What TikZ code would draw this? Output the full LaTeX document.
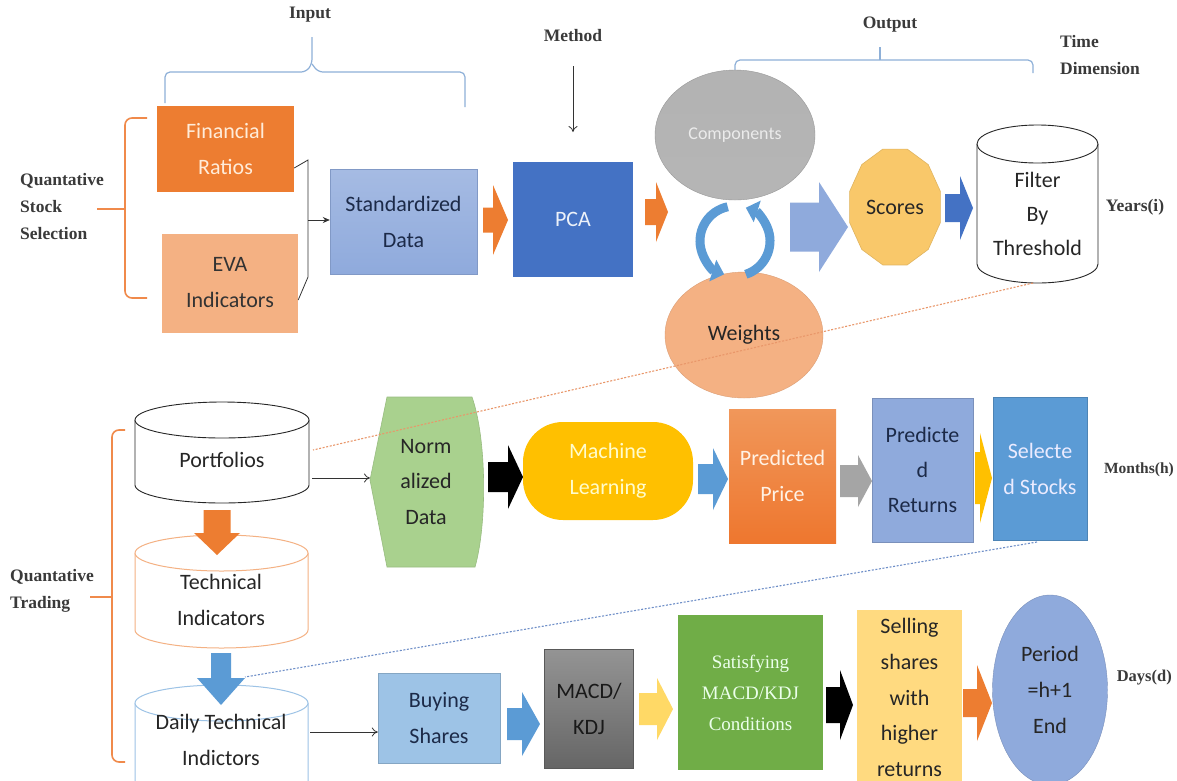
\documentclass[tikz,border=0pt]{standalone}
\usepackage{fontspec}
\setmainfont{Liberation Serif}
\newfontfamily\calfont{Carlito}
\usetikzlibrary{shapes.geometric,arrows.meta,calc}
\definecolor{cOrange}{HTML}{ED7D31}
\definecolor{cSalmon}{HTML}{F4B183}
\definecolor{cLav}{HTML}{8FAADC}
\definecolor{cBlue}{HTML}{4472C4}
\definecolor{cSky}{HTML}{5B9BD5}
\definecolor{cSkyDark}{HTML}{41719C}
\definecolor{cLightSky}{HTML}{9DC3E6}
\definecolor{cGray}{HTML}{A5A5A5}
\definecolor{cGold}{HTML}{FFC000}
\definecolor{cPaleGold}{HTML}{FFD966}
\definecolor{cScore}{HTML}{F9C86A}
\definecolor{cSell}{HTML}{FFDA80}
\definecolor{cGreen}{HTML}{70AD47}
\definecolor{cLightGreen}{HTML}{A9D18E}
\definecolor{cDark}{HTML}{3A3A3A}
\definecolor{cNavy}{HTML}{1C2A48}
\definecolor{cBrace}{HTML}{8EB0D8}
\definecolor{cOBrace}{HTML}{F08A4B}
\definecolor{cODot}{HTML}{E9976A}
\definecolor{cBDot}{HTML}{6F8FC8}
\newcommand{\rarr}[7]{%
  \fill[#7] (#1,{#3-#4}) -- (#6,{#3-#4}) -- (#6,{#3-#5}) -- (#2,#3) -- (#6,{#3+#5}) -- (#6,{#3+#4}) -- (#1,{#3+#4}) -- cycle;}
\newcommand{\darr}[7]{%
  \fill[#7] ({#3-#4},#1) -- ({#3-#4},#6) -- ({#3-#5},#6) -- (#3,#2) -- ({#3+#5},#6) -- ({#3+#4},#6) -- ({#3+#4},#1) -- cycle;}
\newcommand{\cyl}[6]{%
  \pgfmathsetmacro\cylrx{(#2-#1)/2}%
  \filldraw[#6] (#1,{#3+#5}) -- (#1,{#4-#5}) arc[start angle=180,end angle=360,x radius=\cylrx pt,y radius=#5pt] -- (#2,{#3+#5}) arc[start angle=0,end angle=180,x radius=\cylrx pt,y radius=#5pt] -- cycle;
  \draw[#6] (#1,{#3+#5}) arc[start angle=180,end angle=360,x radius=\cylrx pt,y radius=#5pt];}
\begin{document}
\begin{tikzpicture}[x=1pt,y=-1pt,
  box/.style={inner sep=0pt, align=center, font=\calfont\fontsize{22}{36}\selectfont},
  lbl/.style={inner sep=0pt, align=left, text=cDark, font=\bfseries\fontsize{17.5}{27}\selectfont},
  brace/.style={draw=cBrace, line width=1.2pt, rounded corners=5pt},
  obrace/.style={draw=cOBrace, line width=1.6pt, rounded corners=7pt},
  thinarrow/.style={draw=black!80, line width=0.8pt, -{To[length=6pt,width=9pt]}},
  odot/.style={draw=cODot, line width=1.1pt, dash pattern=on 2pt off 1.6pt},
  bdot/.style={draw=cBDot, line width=1.1pt, dash pattern=on 2pt off 1.6pt},
  cylw/.style={draw=black!85, fill=white, line width=0.9pt},
  cylo/.style={draw=cSalmon, fill=white, line width=1pt},
  cylb/.style={draw=cLightSky, fill=white, line width=1pt},
  circarrow/.style={draw=cSky, line width=9pt, -{Triangle[length=12pt,width=22pt]}}
]
\useasboundingbox (0,0) rectangle (1177,780);
\fill[white] (0,0) rectangle (1177,780);

% ---------- top labels and braces ----------
\node[lbl] (input) at (310,15) {Input};
\draw[brace] (165,103) -- (165,72) -- (306,72) -- (312,64) -- (312,37);
\draw[brace] (312,64) -- (318,72) -- (465,72) -- (465,107);
\node[lbl] (method) at (573,36) {Method};
\coordinate (mtip) at (573,132);
\draw[thinarrow] ($(method.south)+(0,24)$) -- (mtip);
\node[lbl] (output) at (890,25) {Output};
\draw[brace] (735,70) -- (735,60) -- (1033,60) -- (1033,73);
\draw[brace] (880,60) -- (880,47);
\node[lbl, anchor=west] (timedim) at (1060,55) {Time\\Dimension};

\node[lbl, anchor=west] (qss) at (20,207) {Quantative\\Stock\\Selection};
\draw[obrace] (147,118) -- (125,118) -- (125,298) -- (147,298);
\draw[obrace, rounded corners=0pt] (97,209) -- (125,209);

% ---------- top row ----------
\node[box, fill=cOrange, text=orange!15, minimum width=137, minimum height=86] (fr) at (225.5,149) {Financial\\Ratios};
\node[box, fill=cSalmon, text=black!80, minimum width=136, minimum height=99] (eva) at (230,283) {EVA\\Indicators};
\node[box, top color=cLav!80, bottom color=cLav, draw=cLav!90!black, text=cNavy, minimum width=147, minimum height=105] (std) at (403.5,221.5) {Standardized\\Data};
\draw[draw=black!80, line width=0.8pt] ($(fr.east)+(0,19)$) -- (308,160) -- (308,277) -- ($(eva.east)+(0,17)$);
\coordinate (join) at (308,220);
\draw[draw=black!80, line width=0.8pt, -{Stealth[length=7pt,width=6pt]}] (join) -- (std.west |- join);

\rarr{483}{508}{220}{12.5}{35}{493}{cOrange}
\node[box, fill=cBlue, text=white!90!cBlue, minimum width=120, minimum height=115] (pca) at (573,219.5) {PCA};
\rarr{645}{668}{212}{13}{30}{656}{cOrange}

\node[ellipse, draw=gray!80, top color=cGray!85, bottom color=cGray!110!black, minimum width=160, minimum height=130, inner sep=0pt, text=white!92!black, font=\calfont\fontsize{18}{22}\selectfont] (comp) at (735,135) {Components};
\node[ellipse, draw=cSalmon!90!black, fill=cSalmon, minimum width=158, minimum height=126, inner sep=0pt, text=black!85, font=\calfont\fontsize{22}{26}\selectfont] (wts) at (744,335) {Weights};
% circular arrows
\coordinate (cyc) at (735,241);
\draw[circarrow] (cyc) ++(102:35pt) arc[start angle=102, end angle=252, radius=35pt];
\draw[circarrow] (cyc) ++(288:35pt) arc[start angle=288, end angle=432, radius=35pt];

\rarr{790}{848}{227}{24.5}{45}{819}{cLav}
% Scores 12-gon
\filldraw[draw=cScore!90!black, fill=cScore, line width=0.6pt] ({895+47*cos(15)},{207+60*sin(15)})
  \foreach \a in {45,75,...,345} { -- ({895+47*cos(\a)},{207+60*sin(\a)}) } -- cycle;
\node[box, text=black!85] (scores) at (895,207) {Scores};
\rarr{945}{973}{208}{14}{32}{960}{cBlue}

\cyl{977}{1098}{125}{283}{19}{cylw}
\node[box, font=\calfont\fontsize{22}{34}\selectfont, text=black!85] (filter) at (1037.5,214) {Filter\\By\\Threshold};
\node[lbl] (years) at (1135,207) {Years(i)};
\coordinate (filterbot) at (1033,283);

% ---------- middle row ----------
\node[lbl, anchor=west] (qt) at (10,591) {Quantative\\Trading};
\draw[obrace] (125,430) -- (112,430) -- (112,762) -- (125,762);
\draw[obrace, rounded corners=0pt] (90,597) -- (112,597);

\cyl{135}{309}{402}{503}{18}{cylw}
\node[box, text=black!85] (port) at (222,460) {Portfolios};
\coordinate (portR) at (313,450);
\coordinate (portA) at (312,478);

\cyl{135}{308}{535}{648}{18}{cylo}
\node[box, text=black!85] (tech) at (221,600) {Technical\\Indicators};
\darr{510}{555}{217}{13.5}{23}{533}{cOrange}

\cyl{135}{308}{685}{805}{18}{cylb}
\node[box, text=black!85] (daily) at (221,740) {Daily Technical\\Indictors};
\darr{653}{705}{221}{10}{24}{678}{cSky}
\coordinate (dailyR) at (245,677);
\coordinate (dailyA) at (310,732);

% Normalized data
\filldraw[draw=cLightGreen!90!black, fill=cLightGreen, line width=0.6pt] (387,397) -- (472,397) .. controls (487,440) and (487,525) .. (475,567) -- (387,567) -- (370,480) -- cycle;
\node[box, text=black!85, font=\calfont\fontsize{22}{35.5}\selectfont] (norm) at (426,482) {Norm\\alized\\Data};
\draw[odot] (filterbot) -- (portR);
\draw[thinarrow] (portA) -- (370,478) coordinate (normL);

\rarr{488}{523}{477}{15}{32}{508}{black}
\node[box, fill=cGold, rounded corners=40pt, text=yellow!20!white, minimum width=170, minimum height=98] (ml) at (608,471) {Machine\\Learning};
\rarr{698}{728}{479}{15}{31}{713}{cSky}
\node[box, top color=cOrange!80!white, bottom color=cOrange!95!red, text=orange!10!white, minimum width=107, minimum height=134] (pp) at (782.5,476) {Predicted\\Price};
\rarr{840}{872}{481}{16}{26}{858}{cGray}
\node[box, fill=cLav, draw=cLav!85!black, text=cNavy, font=\calfont\fontsize{22}{35}\selectfont, minimum width=101, minimum height=144] (pr) at (922.5,470) {Predicte\\d\\Returns};
\rarr{975}{992}{478}{26}{45}{980}{cGold}
\node[box, fill=cSky, draw=cSky!85!black, text=blue!8!white, minimum width=94, minimum height=143] (ss) at (1040,468.5) {Selecte\\d Stocks};
\node[lbl, anchor=east, font=\bfseries\fontsize{15.5}{20}\selectfont] (months) at (1174,470) {Months(h)};
\coordinate (ssbot) at (1037,542);
\draw[bdot] (ssbot) -- (dailyR);

% ---------- bottom row ----------
\node[box, fill=cLightSky, draw=cLightSky!85!black, text=cNavy, minimum width=122, minimum height=90] (bs) at (439,718) {Buying\\Shares};
\draw[thinarrow] (dailyA) -- (bs.west |- dailyA);
\rarr{507}{540}{724}{16}{32}{522}{cSky}
\node[box, top color=black!42, bottom color=black!60, draw=black!65, text=black!90, minimum width=89, minimum height=119] (macd) at (589,708.5) {MACD/\\KDJ};
\rarr{639}{673}{709}{16}{31}{657}{cPaleGold}
\node[box, fill=cGreen, text=green!8!white, font=\fontsize{19}{31}\selectfont, minimum width=145, minimum height=155] (sat) at (750.5,692.5) {Satisfying\\MACD/KDJ\\Conditions};
\rarr{826}{853}{705}{18}{35}{840}{black}
\node[box, fill=cSell, text=black!85, font=\calfont\fontsize{22}{35.8}\selectfont, minimum width=105, minimum height=175] (sell) at (909.5,697.5) {Selling\\shares\\with\\higher\\returns};
\rarr{963}{992}{703}{14}{38}{977}{cOrange}
\node[ellipse, fill=cLav, draw=cLav!85!black, inner sep=0pt, minimum width=115, minimum height=190, align=center, text=black!85, font=\calfont\fontsize{22}{36}\selectfont] (period) at (1050,690) {Period\\=h+1\\End};
\node[lbl, anchor=east, font=\bfseries\fontsize{16.5}{20}\selectfont] (days) at (1172,678) {Days(d)};
\end{tikzpicture}
\end{document}
